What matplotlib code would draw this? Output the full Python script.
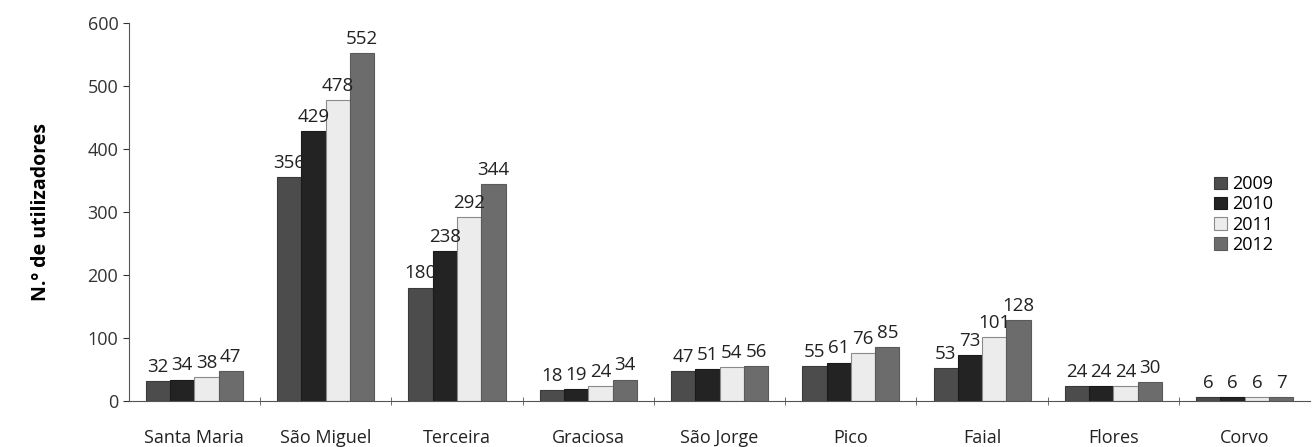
import numpy as np
import matplotlib
matplotlib.use('Agg')
import matplotlib.pyplot as plt

# Data
islands = ['Santa Maria', 'São Miguel', 'Terceira', 'Graciosa', 'São Jorge',
           'Pico', 'Faial', 'Flores', 'Corvo']
years = ['2009', '2010', '2011', '2012']
v2009 = [32, 356, 180, 18, 47, 55, 53, 24, 6]
v2010 = [34, 429, 238, 19, 51, 61, 73, 24, 6]
v2011 = [38, 478, 292, 24, 54, 76, 101, 24, 6]
v2012 = [47, 552, 344, 34, 56, 85, 128, 30, 7]

plt.rcParams['font.family'] = ['Open Sans', 'DejaVu Sans']

fig = plt.figure(figsize=(13.13, 4.47), dpi=100)
ax = fig.add_axes([0.098, 0.103, 0.9, 0.846])

colors = ['#4c4c4c', '#232323', '#ececec', '#6c6c6c']
edges = ['#3a3a3a', '#1a1a1a', '#8a8a8a', '#5a5a5a']
series = [v2009, v2010, v2011, v2012]
x = np.arange(len(islands))
w = 0.185

for i, (vals, yr) in enumerate(zip(series, years)):
    pos = x + (i - 1.5) * w
    ax.bar(pos, vals, width=w, color=colors[i], edgecolor=edges[i],
           linewidth=0.8, label=yr)
    for p, v in zip(pos, vals):
        ax.text(p, v + 8, str(v), ha='center', va='bottom', fontsize=13.5,
                color='#222222')

ax.set_xlim(-0.5, len(islands) - 0.5)
ax.set_ylim(0, 600)
ax.set_yticks([0, 100, 200, 300, 400, 500, 600])
ax.tick_params(axis='y', labelsize=13, length=4, colors='#333333')
ax.set_xticks(x)
ax.set_xticklabels(islands, fontsize=13)
ax.tick_params(axis='x', length=0, pad=20, colors='#222222')
ax.set_xticks(np.arange(0.5, len(islands) - 0.5, 1), minor=True)
ax.tick_params(axis='x', which='minor', length=6, direction='inout', color='#555555')

for s in ['top', 'right']:
    ax.spines[s].set_visible(False)
ax.spines['left'].set_color('#555555')
ax.spines['bottom'].set_color('#555555')

ax.set_ylabel('N.º de utilizadores', fontsize=14, fontweight='bold', labelpad=26)

ax.legend(loc='upper left', bbox_to_anchor=(0.905, 0.64), frameon=False,
          fontsize=13, handlelength=0.7, handleheight=0.7, handletextpad=0.3,
          labelspacing=0.12)

fig.savefig('out.png', dpi=100)
